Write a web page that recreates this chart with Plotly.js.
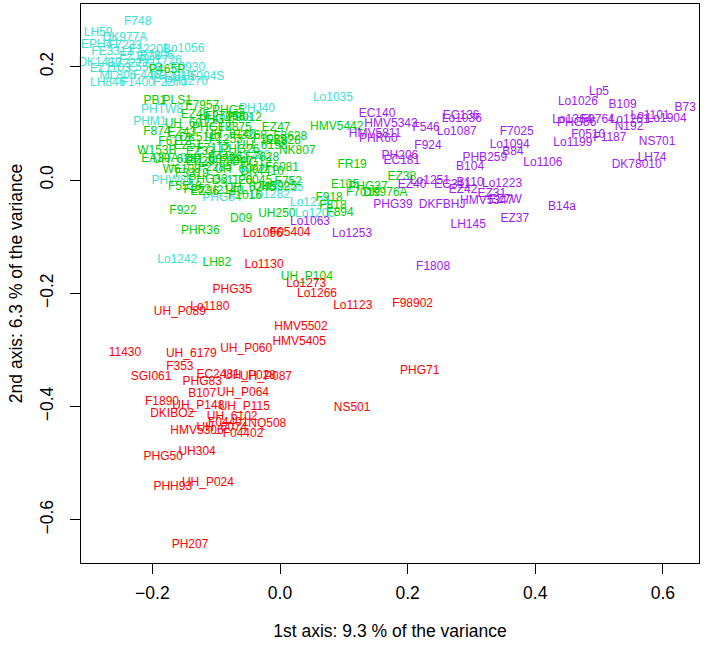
<!DOCTYPE html>
<html><head><meta charset="utf-8">
<script src="https://cdn.plot.ly/plotly-3.0.1.min.js"></script>
<style>html,body{margin:0;padding:0;background:#fff}#chart{width:709px;height:646px}</style>
</head><body><div id="chart"></div>
<script>
// ---- cyan group ----
const cyanNames = ["F748","LH59","DK977A","EPH41","F7233","F1220B","Lo1056","FE3312","F7206","PH1726","DK1410","EZ2271","F0930","EZ1103","ML806","F4462","UH5004S","PH2810","LH846","F1400","F2270","PH1270","F5508","EZ1226","PHTW8","PHM1","PHT32","PHW86","Lo1242","Lo1035","PHJ40","Lo1058","HS280","PHG84","Lo1282","Lo1224","Lo1205","HS9925"];
const cyanX = [-0.223,-0.285,-0.243,-0.282,-0.243,-0.204,-0.150,-0.263,-0.193,-0.188,-0.282,-0.238,-0.144,-0.266,-0.254,-0.204,-0.128,-0.169,-0.270,-0.223,-0.172,-0.147,-0.212,-0.219,-0.185,-0.204,-0.128,-0.169,-0.161,0.083,-0.036,-0.075,-0.044,-0.091,-0.016,0.047,0.055,0.003];
const cyanY = [0.279,0.259,0.251,0.238,0.237,0.229,0.231,0.226,0.219,0.210,0.207,0.205,0.198,0.196,0.184,0.184,0.182,0.182,0.171,0.171,0.171,0.173,0.198,0.217,0.124,0.102,0.037,-0.002,-0.141,0.145,0.125,0.109,0.042,-0.032,-0.026,-0.041,-0.060,-0.014];

// ---- green group ----
const greenNames = ["LH82","UH_P104","UH250","D09","F922","PHR36","F252","F894","F918","F818","E105","FR19","EZ38","PHG37","F7019","DK976A","HMV5442","EZ47","F3628","EZ828","NK807","F6081","F752","UH5925","P465P","PB1","PLS1","F7957","F874","W153B","EA30A","W6108",
 "PHG5","F27058","EZ45","F7875","UH_6012","PHG18","EZ43","F3268","DK5112","F1253","UH_6198","EZ51","F7112","PHG26","F1085","UH_6281","F4466","EZ29","PHG12","F2285","UH_6092","F3319","DK4410","PHG33","Ds1120","F6045","I2140","UH_6246","F5518","EZ36","F1016","PHG42","F9012","EZ33","UH_6140","F7628","F6112","UH_6077","F8847"];
const greenX = [-0.099,0.042,-0.005,-0.061,-0.152,-0.125,-0.130,0.094,0.077,0.083,0.102,0.113,0.191,0.138,0.130,0.165,0.089,-0.006,0.016,0.005,0.027,0.003,0.013,-0.008,-0.177,-0.196,-0.161,-0.122,-0.193,-0.193,-0.188,-0.154,
 -0.081,-0.086,-0.133,-0.071,-0.141,-0.107,-0.154,-0.047,-0.125,-0.085,-0.028,-0.144,-0.105,-0.063,-0.016,-0.160,-0.086,-0.125,-0.044,-0.102,-0.063,-0.138,-0.028,-0.113,-0.075,-0.039,-0.081,-0.047,-0.149,-0.118,-0.055,-0.097,-0.055,-0.125,-0.078,-0.028,-0.165,-0.110,-0.069];
const greenY = [-0.146,-0.171,-0.060,-0.069,-0.055,-0.090,-0.018,-0.058,-0.032,-0.046,-0.009,0.026,0.005,-0.012,-0.023,-0.023,0.094,0.092,0.076,0.069,0.051,0.021,-0.004,-0.012,0.194,0.139,0.139,0.131,0.085,0.051,0.037,0.018,
 0.122,0.111,0.115,0.092,0.099,0.092,0.083,0.078,0.074,0.071,0.060,0.060,0.055,0.053,0.071,0.035,0.039,0.032,0.030,0.021,0.018,0.011,0.014,0.000,-0.002,-0.002,-0.019,-0.014,-0.012,-0.021,-0.028,0.106,0.109,0.049,0.079,0.039,0.067,0.035,0.032];

// ---- purple group ----
const purpleNames = ["F1808","Lo1063","Lo1253","EC140","EC136","Lo1036","HMV5343","F546","Lo1087","F7025","HMV5811","PHR60","F924","Lo1094","B84","PH206","EC181","PHB259","B104","Lo1106","Lo1251","EC311","B110","Lo1223","EZ40","EZ42","EZ31","HMV5347","EZ7W","DKFBHJ","PHG39","EZ37","LH145","B14a","Lp5","Lo1026","B109","B73","Lo1364","PHG86","F9764","Lo1261","Lo1101","Lo1904","N192","F0510","F1187","Lo1199","NS701","LH74","DK78010"];
const purpleX = [0.240,0.047,0.113,0.152,0.284,0.285,0.174,0.229,0.277,0.371,0.149,0.154,0.232,0.360,0.365,0.188,0.191,0.321,0.298,0.412,0.235,0.270,0.298,0.348,0.207,0.287,0.332,0.324,0.353,0.254,0.177,0.368,0.295,0.442,0.500,0.467,0.537,0.635,0.458,0.465,0.498,0.548,0.580,0.606,0.547,0.483,0.517,0.459,0.591,0.583,0.559];
const purpleY = [-0.154,-0.074,-0.095,0.116,0.113,0.108,0.099,0.092,0.085,0.085,0.081,0.072,0.060,0.062,0.049,0.042,0.034,0.039,0.023,0.030,-0.002,-0.009,-0.005,-0.007,-0.009,-0.018,-0.025,-0.037,-0.035,-0.044,-0.044,-0.069,-0.079,-0.048,0.155,0.138,0.132,0.127,0.106,0.101,0.106,0.106,0.113,0.108,0.094,0.079,0.074,0.065,0.067,0.039,0.026];

// ---- red group ----
const redNames = ["Lo1130","PHG35","Lo1180","UH_P089","11430","UH_6179","UH_P060","F353","SGI061","EC2481","UH_P028","UH_P087","PHG83","UH_P064","B107","F1890","UH_P148","UH_P115","DKIBO2","UH_6102","F04401","NQ508","HMV5306","UH_6074","F04402","UH304","PHG50","UH_P024","PHH93","PH207","Lo1273","Lo1266","Lo1123","F98902","HMV5502","HMV5405","PHG71","NS501","Lo1096","F05404"];
const redX = [-0.025,-0.075,-0.110,-0.157,-0.243,-0.139,-0.053,-0.157,-0.202,-0.097,-0.047,-0.022,-0.122,-0.058,-0.122,-0.185,-0.128,-0.056,-0.169,-0.075,-0.081,-0.020,-0.130,-0.091,-0.058,-0.130,-0.183,-0.113,-0.168,-0.141,0.041,0.058,0.114,0.208,0.033,0.030,0.219,0.113,-0.027,0.016];
const redY = [-0.150,-0.194,-0.224,-0.233,-0.305,-0.307,-0.298,-0.330,-0.348,-0.344,-0.346,-0.348,-0.357,-0.376,-0.378,-0.392,-0.399,-0.401,-0.413,-0.418,-0.429,-0.431,-0.443,-0.438,-0.448,-0.480,-0.489,-0.535,-0.542,-0.644,-0.184,-0.201,-0.222,-0.219,-0.259,-0.286,-0.337,-0.402,-0.095,-0.094];

const xTickVals = [-0.2, 0.0, 0.2, 0.4, 0.6];
const xTickText = ["\u22120.2", "0.0", "0.2", "0.4", "0.6"];
const yTickVals = [-0.6, -0.4, -0.2, 0.0, 0.2];
const yTickText = ["\u22120.6", "\u22120.4", "\u22120.2", "0.0", "0.2"];

const FONT = "Liberation Sans, Arial, Helvetica, sans-serif";
function grp(names, xs, ys, color) {
  return {type: "scatter", mode: "text", x: xs, y: ys, text: names,
    textposition: "middle center", textfont: {family: FONT, size: 12, color: color},
    cliponaxis: false, hoverinfo: "none", showlegend: false};
}
const data = [
  grp(cyanNames, cyanX, cyanY, "#40E0D0"),
  grp(greenNames, greenX, greenY, "#00CD00"),
  grp(purpleNames, purpleX, purpleY, "#A020F0"),
  grp(redNames, redX, redY, "#FF0000")
];
const axisCommon = {showgrid: false, zeroline: false, showline: true, mirror: true, linecolor: "#000", linewidth: 1,
  ticks: "outside", ticklen: 10, tickcolor: "#000", tickwidth: 1, tickfont: {family: FONT, size: 17.5, color: "#000"}};
const layout = {
  width: 709, height: 646, margin: {l: 81, r: 10, t: 4, b: 83},
  paper_bgcolor: "#fff", plot_bgcolor: "#fff", showlegend: false,
  font: {family: FONT, color: "#000"},
  xaxis: Object.assign({}, axisCommon, {range: [-0.3119, 0.6567], tickmode: "array", tickvals: xTickVals, ticktext: xTickText,
    ticklabelstandoff: 4,
    title: {text: "1st axis: 9.3 % of the variance", font: {family: FONT, size: 17.5, color: "#000"}, standoff: 22}}),
  yaxis: Object.assign({}, axisCommon, {range: [-0.6761, 0.3107], tickmode: "array", tickvals: yTickVals, ticktext: yTickText,
    tickangle: -90, ticklabelstandoff: 10,
    title: {text: "2nd axis: 6.3 % of the variance", font: {family: FONT, size: 17.5, color: "#000"}, standoff: 9}})
};
Plotly.newPlot("chart", data, layout, {staticPlot: true, displayModeBar: false});
</script></body></html>
